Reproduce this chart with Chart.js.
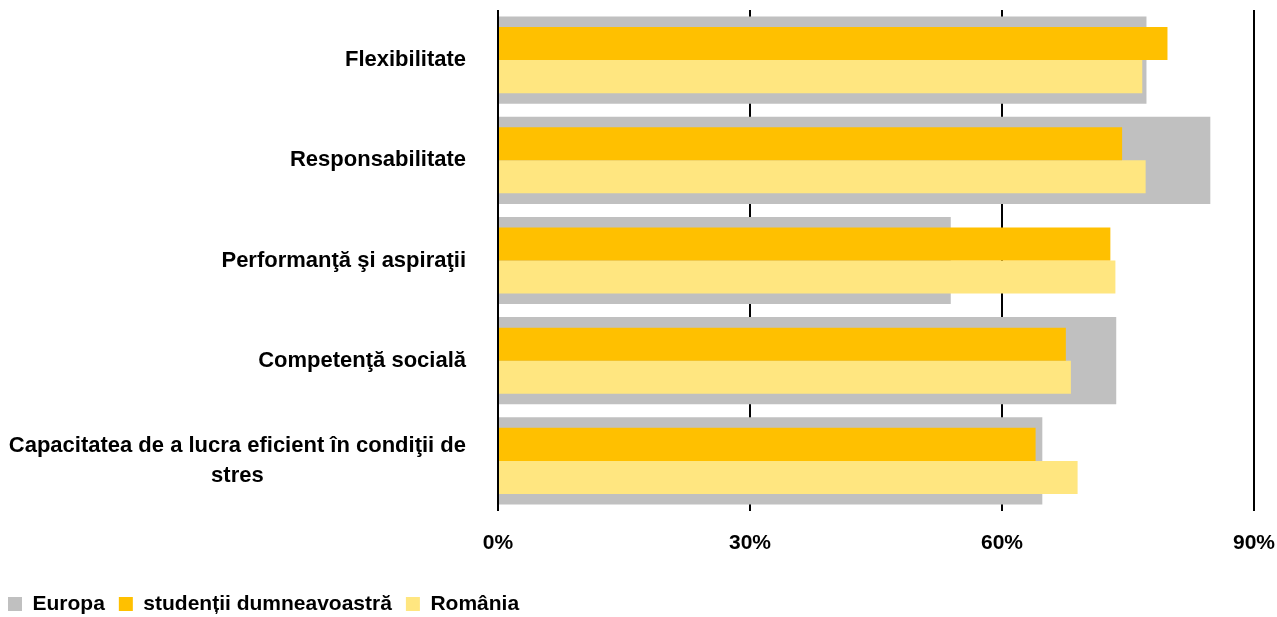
<!DOCTYPE html>
<html>
<head>
<meta charset="utf-8">
<script src="https://cdn.jsdelivr.net/npm/chart.js@4/dist/chart.umd.min.js"></script>
<style>
  html, body { margin: 0; padding: 0; background: #fff; }
  #wrap { width: 1277px; height: 617px; }
</style>
</head>
<body>
<div id="wrap"><canvas id="chart" width="1277" height="617"></canvas></div>
<script>
// ── Data ─────────────────────────────────────────────────────
const categories = [
    "Flexibilitate",
    "Responsabilitate",
    "Performanţă şi aspiraţii",
    "Competenţă socială",
    ["Capacitatea de a lucra eficient în condiţii de", "stres"]
];
const seriesNames = ["Europa", "studenții dumneavoastră", "România"];
const europa   = [77.2, 84.8, 53.9, 73.6, 64.8];
const studenti = [79.7, 74.3, 72.9, 67.6, 64.0];
const romania  = [76.7, 77.1, 73.5, 68.2, 69.0];
const xTicks = [0, 30, 60, 90];

// ── Style ────────────────────────────────────────────────────
const FONT = "'Liberation Sans', Arial, sans-serif";
Chart.defaults.font.family = FONT;
Chart.defaults.font.size = 21;
Chart.defaults.font.weight = "bold";
Chart.defaults.color = "#000";

// y labels: right-aligned block, lines centred inside the block
const categoryLabels = {
    id: "categoryLabels",
    afterDraw(chart) {
        const ctx = chart.ctx;
        const y = chart.scales.y;
        const right = chart.chartArea.left - 32;
        ctx.save();
        ctx.font = "bold 22px " + FONT;
        ctx.fillStyle = "#000";
        ctx.textBaseline = "middle";
        categories.forEach((label, i) => {
            const lines = Array.isArray(label) ? label : [label];
            const cy = y.getPixelForValue(i);
            const maxW = Math.max(...lines.map(l => ctx.measureText(l).width));
            const lh = 30;
            const y0 = cy - (lines.length - 1) * lh / 2;
            ctx.textAlign = lines.length > 1 ? "center" : "right";
            const x = lines.length > 1 ? right - maxW / 2 : right;
            lines.forEach((l, k) => ctx.fillText(l, x, y0 + k * lh));
        });
        ctx.restore();
    }
};

new Chart(document.getElementById("chart"), {
    type: "bar",
    data: {
        labels: categories.map((c, i) => i),
        datasets: [
            {
                label: seriesNames[0],
                data: europa,
                backgroundColor: "#C0C0C0",
                borderWidth: 0,
                grouped: false,
                categoryPercentage: 0.87,
                barPercentage: 1,
                order: 1
            },
            {
                label: seriesNames[1],
                data: studenti,
                backgroundColor: "#FFC000",
                borderWidth: 0,
                categoryPercentage: 0.66,
                barPercentage: 1,
                order: 0
            },
            {
                label: seriesNames[2],
                data: romania,
                backgroundColor: "#FFE680",
                borderWidth: 0,
                categoryPercentage: 0.66,
                barPercentage: 1,
                order: 0
            }
        ]
    },
    options: {
        indexAxis: "y",
        responsive: false,
        animation: false,
        layout: { padding: { top: 10, right: 23, left: -6, bottom: -7.5 } },
        plugins: {
            tooltip: { enabled: false },
            legend: {
                position: "bottom",
                align: "start",
                labels: {
                    boxWidth: 14,
                    boxHeight: 14,
                    padding: 14,
                    sort: (a, b) => a.datasetIndex - b.datasetIndex,
                    font: { size: 21, weight: "bold" }
                }
            }
        },
        scales: {
            x: {
                min: 0,
                max: 90,
                afterBuildTicks: s => { s.ticks = xTicks.map(v => ({ value: v })); },
                afterFit: s => {
                    s.height = 68.5;
                    s.paddingLeft = 0;
                    s.paddingRight = 0;
                },
                ticks: {
                    padding: 20,
                    callback: v => v + "%",
                    font: { size: 21, weight: "bold" }
                },
                grid: { color: "#000", lineWidth: 2, tickLength: 0 },
                border: { display: false }
            },
            y: {
                afterFit: s => { s.width = 504; },
                ticks: { display: false },
                grid: { display: false },
                border: { display: false }
            }
        }
    },
    plugins: [categoryLabels]
});
</script>
</body>
</html>
